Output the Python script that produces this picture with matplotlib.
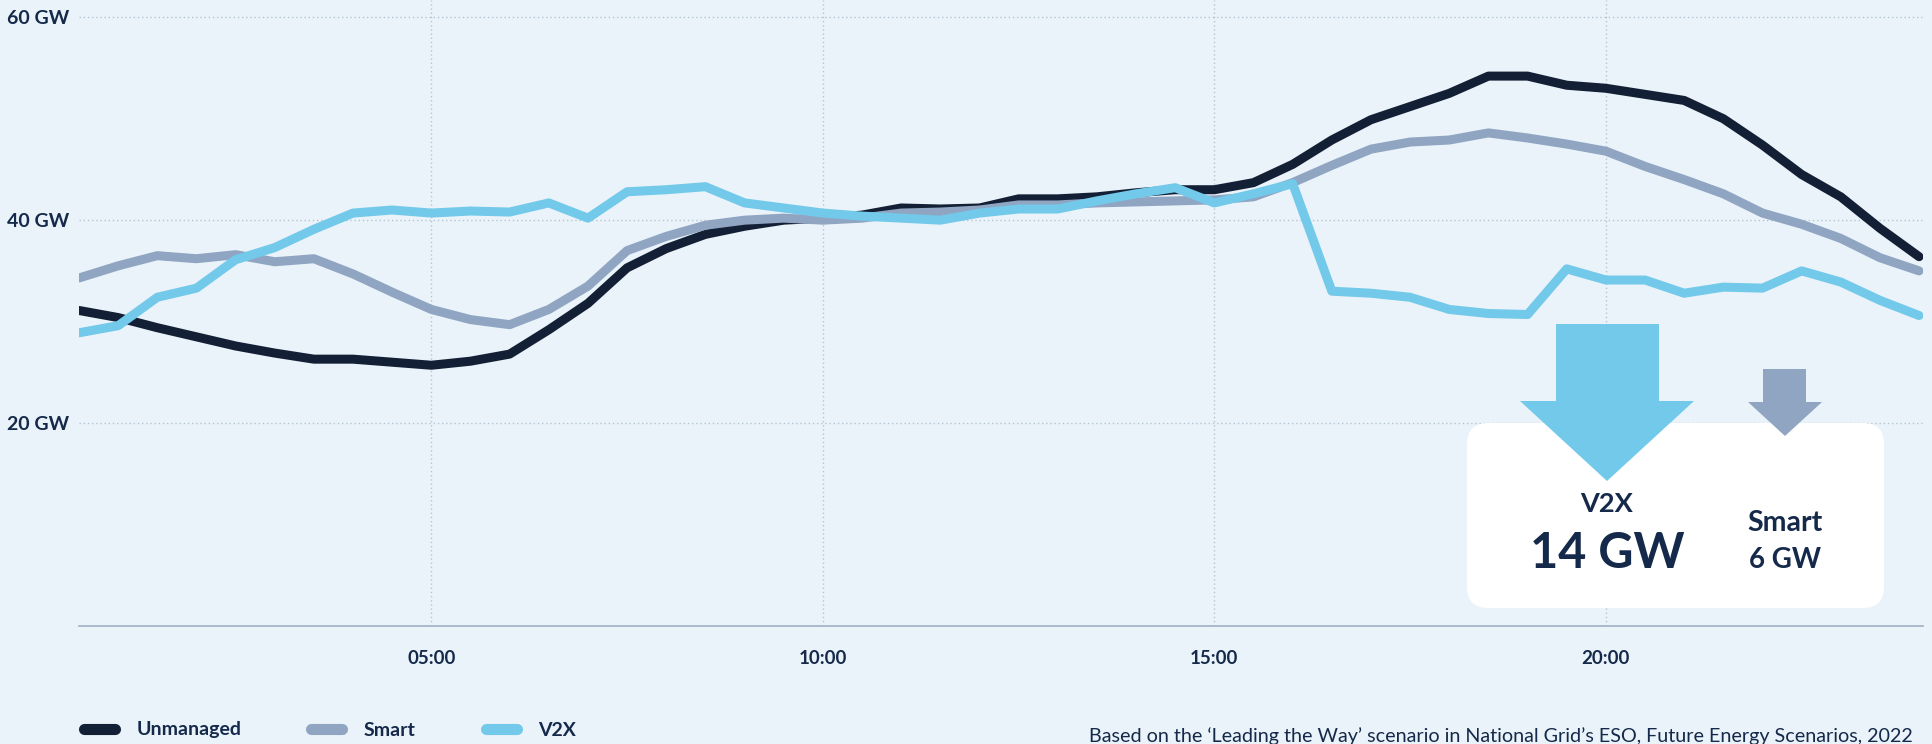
import matplotlib
matplotlib.use("Agg")
import matplotlib.pyplot as plt
import numpy as np
from matplotlib.lines import Line2D
from matplotlib.patches import FancyBboxPatch, Polygon

# half-hourly slots, 00:30 .. 24:00
hours = np.arange(0.5, 24.01, 0.5)

unmanaged = [31.1, 30.4, 29.4, 28.5, 27.6, 26.9, 26.3, 26.3, 26.0, 25.7,
             26.1, 26.8, 29.2, 31.8, 35.3, 37.2, 38.6, 39.4, 40.0, 40.2,
             40.5, 41.2, 41.1, 41.2, 42.1, 42.1, 42.3, 42.7, 43.0, 43.0,
             43.7, 45.5, 47.9, 49.9, 51.2, 52.5, 54.2, 54.2, 53.3, 53.0,
             52.4, 51.8, 50.0, 47.4, 44.5, 42.3, 39.2, 36.4]
smart = [34.3, 35.5, 36.5, 36.2, 36.6, 35.9, 36.2, 34.7, 32.9, 31.2,
         30.2, 29.7, 31.2, 33.5, 37.0, 38.4, 39.5, 40.0, 40.2, 40.0,
         40.2, 40.7, 40.8, 41.0, 41.5, 41.5, 41.7, 41.8, 41.9, 42.0,
         42.3, 43.7, 45.4, 47.0, 47.7, 47.9, 48.6, 48.1, 47.5, 46.8,
         45.3, 44.0, 42.6, 40.7, 39.6, 38.2, 36.3, 35.0]
v2x = [28.9, 29.6, 32.4, 33.3, 36.1, 37.3, 39.1, 40.7, 41.0, 40.7,
       40.9, 40.8, 41.7, 40.2, 42.8, 43.0, 43.3, 41.7, 41.2, 40.7,
       40.4, 40.2, 40.0, 40.7, 41.1, 41.1, 41.9, 42.6, 43.2, 41.7,
       42.6, 43.6, 33.0, 32.8, 32.4, 31.2, 30.8, 30.7, 35.2, 34.1,
       34.1, 32.8, 33.4, 33.3, 35.0, 33.9, 32.1, 30.6]

series_names = ["Unmanaged", "Smart", "V2X"]
series_colors = ["#131F35", "#8FA5C2", "#72C9EA"]

xticks = [5, 10, 15, 20]
xtick_labels = ["05:00", "10:00", "15:00", "20:00"]
yticks = [20, 40, 60]
ytick_labels = ["20 GW", "40 GW", "60 GW"]

bg = "#EAF3F9"
navy = "#15294A"

W, H = 1933, 744
plt.rcParams['font.family'] = ['Lato', 'DejaVu Sans']

fig = plt.figure(figsize=(W / 100, H / 100), dpi=100, facecolor=bg)
ax = fig.add_axes([79 / W, (H - 626) / H, (1923 - 79) / W, 626 / H])
ax.set_facecolor(bg)

for vals, name, color in zip([unmanaged, smart, v2x], series_names, series_colors):
    ax.plot(hours, vals, color=color, lw=6.5, solid_capstyle='round',
            solid_joinstyle='round', label=name, zorder=3)

ax.set_xlim(0.5, 24.05)
ax.set_ylim(0, 61.7)
ax.set_xticks(xticks)
ax.set_xticklabels(xtick_labels)
ax.set_yticks(yticks)
ax.set_yticklabels(ytick_labels)
ax.tick_params(length=0, colors=navy, labelsize=13.5)
ax.tick_params(axis='y', labelsize=14, pad=7)
ax.tick_params(axis='x', pad=17)
for lab in ax.get_xticklabels() + ax.get_yticklabels():
    lab.set_fontweight('bold')

ax.set_axisbelow(True)
ax.grid(True, linestyle=(0, (1, 2)), color="#B3C5D2", lw=1)
for s in ["top", "right", "left"]:
    ax.spines[s].set_visible(False)
ax.spines["bottom"].set_color("#9FB0C3")
ax.spines["bottom"].set_linewidth(1.2)

# legend
handles = [Line2D([0], [0], color=c, lw=8, solid_capstyle='round') for c in series_colors]
leg = fig.legend(handles, series_names, loc='center left',
                 bbox_to_anchor=(74 / W, 1 - 730 / H), ncol=3, frameon=False,
                 handlelength=1.6, handletextpad=1.1, columnspacing=3.6,
                 borderpad=0, prop={'size': 14, 'weight': 'bold'})
for t in leg.get_texts():
    t.set_color(navy)

fig.text(1913 / W, 1 - 742 / H,
         "Based on the \u2018Leading the Way\u2019 scenario in National Grid\u2019s ESO, Future Energy Scenarios, 2022",
         ha='right', va='baseline', color=navy, fontsize=14.2, fontweight='normal')

# callout box with arrows (figure pixel coords)
def px(x, y):
    return (x / W, 1 - y / H)

bx0, by0 = px(1467, 608)
bx1, by1 = px(1884, 423)
box = FancyBboxPatch((bx0, by0), bx1 - bx0, by1 - by0,
                     boxstyle="round,pad=0,rounding_size=0.011",
                     transform=fig.transFigure, facecolor="white",
                     edgecolor="none", zorder=5, mutation_aspect=W / H)
fig.patches.append(box)

big_arrow = [(1556, 324), (1659, 324), (1659, 401), (1694, 401),
             (1607, 481), (1520, 401), (1556, 401)]
small_arrow = [(1763, 369), (1806, 369), (1806, 402), (1822, 402),
               (1785, 436), (1748, 402), (1763, 402)]
fig.patches.append(Polygon([px(*p) for p in big_arrow], closed=True,
                           transform=fig.transFigure, facecolor="#72C9EA",
                           edgecolor="none", zorder=6))
fig.patches.append(Polygon([px(*p) for p in small_arrow], closed=True,
                           transform=fig.transFigure, facecolor="#8FA5C2",
                           edgecolor="none", zorder=6))

fig.text(*px(1607, 504), "V2X", ha='center', va='center', color=navy,
         fontsize=19.5, fontweight='bold', zorder=7)
fig.text(*px(1607, 553), "14 GW", ha='center', va='center', color=navy,
         fontsize=35, fontweight='bold', zorder=7)
fig.text(*px(1785, 523), "Smart", ha='center', va='center', color=navy,
         fontsize=20.5, fontweight='bold', zorder=7)
fig.text(*px(1785, 560), "6 GW", ha='center', va='center', color=navy,
         fontsize=20, fontweight='bold', zorder=7)

fig.savefig("out.png", dpi=100, facecolor=bg)
